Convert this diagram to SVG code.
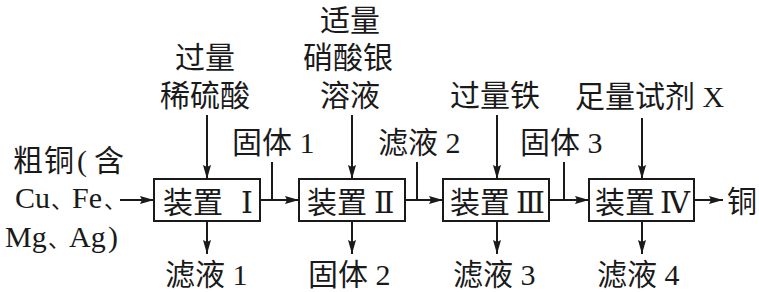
<svg xmlns="http://www.w3.org/2000/svg" width="759" height="292" viewBox="0 0 759 292">
<style>
text{font-family:"Liberation Serif","Noto Sans CJK SC",serif;font-size:30px;fill:#1a1a1a}
.cm{font-size:22px}
.rn{font-family:"Liberation Serif","DejaVu Serif","Noto Sans CJK SC",serif;font-size:30px}
.box{fill:#fff;stroke:#1a1a1a;stroke-width:2}
.ln{fill:none;stroke:#1a1a1a;stroke-width:2}
.ar{fill:none;stroke:#1a1a1a;stroke-width:2;marker-end:url(#ah)}
</style>
<defs>
<marker id="ah" markerUnits="userSpaceOnUse" markerWidth="15" markerHeight="10" refX="14" refY="5" orient="auto">
<path d="M0,1 L14,5 L0,9 L2,5 z" fill="#1a1a1a"/>
</marker>
</defs>
<rect width="759" height="292" fill="#fff"/>
<g id="connectors">
<path class="ar" d="M120,200 H154"/>
<path class="ar" d="M260,200 H299"/>
<path class="ln" d="M272,162 V200"/>
<path class="ar" d="M405,200 H443"/>
<path class="ln" d="M417,162 V200"/>
<path class="ar" d="M549,200 H589"/>
<path class="ln" d="M564,162 V200"/>
<path class="ar" d="M694,200 H723"/>
<path class="ar" d="M207,115 V179"/>
<path class="ar" d="M352,115 V179"/>
<path class="ar" d="M497,115 V179"/>
<path class="ar" d="M642,118 V179"/>
<path class="ar" d="M207,221 V254"/>
<path class="ar" d="M352,221 V254"/>
<path class="ar" d="M497,221 V254"/>
<path class="ar" d="M642,221 V254"/>
</g>
<g id="raw">
<text x="13" y="171">粗<tspan x="44">铜</tspan><tspan x="77">(</tspan><tspan x="94">含</tspan></text>
<text x="15" y="208">Cu<tspan class="cm" x="51">、</tspan><tspan x="72">Fe</tspan><tspan class="cm" x="104">、</tspan></text>
<text x="5" y="247">Mg<tspan class="cm" x="48">、</tspan><tspan x="69">Ag</tspan><tspan x="108">)</tspan></text>
</g>
<g id="dev1">
<rect class="box" x="154" y="179" width="106" height="42"/>
<text x="163" y="213">装置<tspan class="rn" x="241">Ⅰ</tspan></text>
</g>
<g id="dev2">
<rect class="box" x="299" y="179" width="106" height="42"/>
<text x="307" y="213">装置<tspan class="rn" x="374">Ⅱ</tspan></text>
</g>
<g id="dev3">
<rect class="box" x="443" y="179" width="106" height="42"/>
<text x="450" y="213">装置<tspan class="rn" x="516">Ⅲ</tspan></text>
</g>
<g id="dev4">
<rect class="box" x="589" y="179" width="105" height="42"/>
<text x="595" y="213">装置<tspan class="rn" x="660">Ⅳ</tspan></text>
</g>
<g id="reagent1">
<text x="175" y="68">过量</text>
<text x="160" y="106">稀硫酸</text>
</g>
<g id="reagent2">
<text x="320" y="31">适量</text>
<text x="303" y="68">硝酸银</text>
<text x="320" y="106">溶液</text>
</g>
<g id="reagent3"><text x="450" y="106">过量铁</text></g>
<g id="reagent4"><text x="575" y="107">足量试剂 X</text></g>
<g id="solid1"><text x="232" y="153">固体 1</text></g>
<g id="filtrate2"><text x="378" y="153">滤液 2</text></g>
<g id="solid3"><text x="520" y="153">固体 3</text></g>
<g id="filtrate1"><text x="165" y="285">滤液 1</text></g>
<g id="solid2"><text x="308" y="285">固体 2</text></g>
<g id="filtrate3"><text x="453" y="285">滤液 3</text></g>
<g id="filtrate4"><text x="597" y="285">滤液 4</text></g>
<g id="copper"><text x="727" y="212">铜</text></g>
</svg>
